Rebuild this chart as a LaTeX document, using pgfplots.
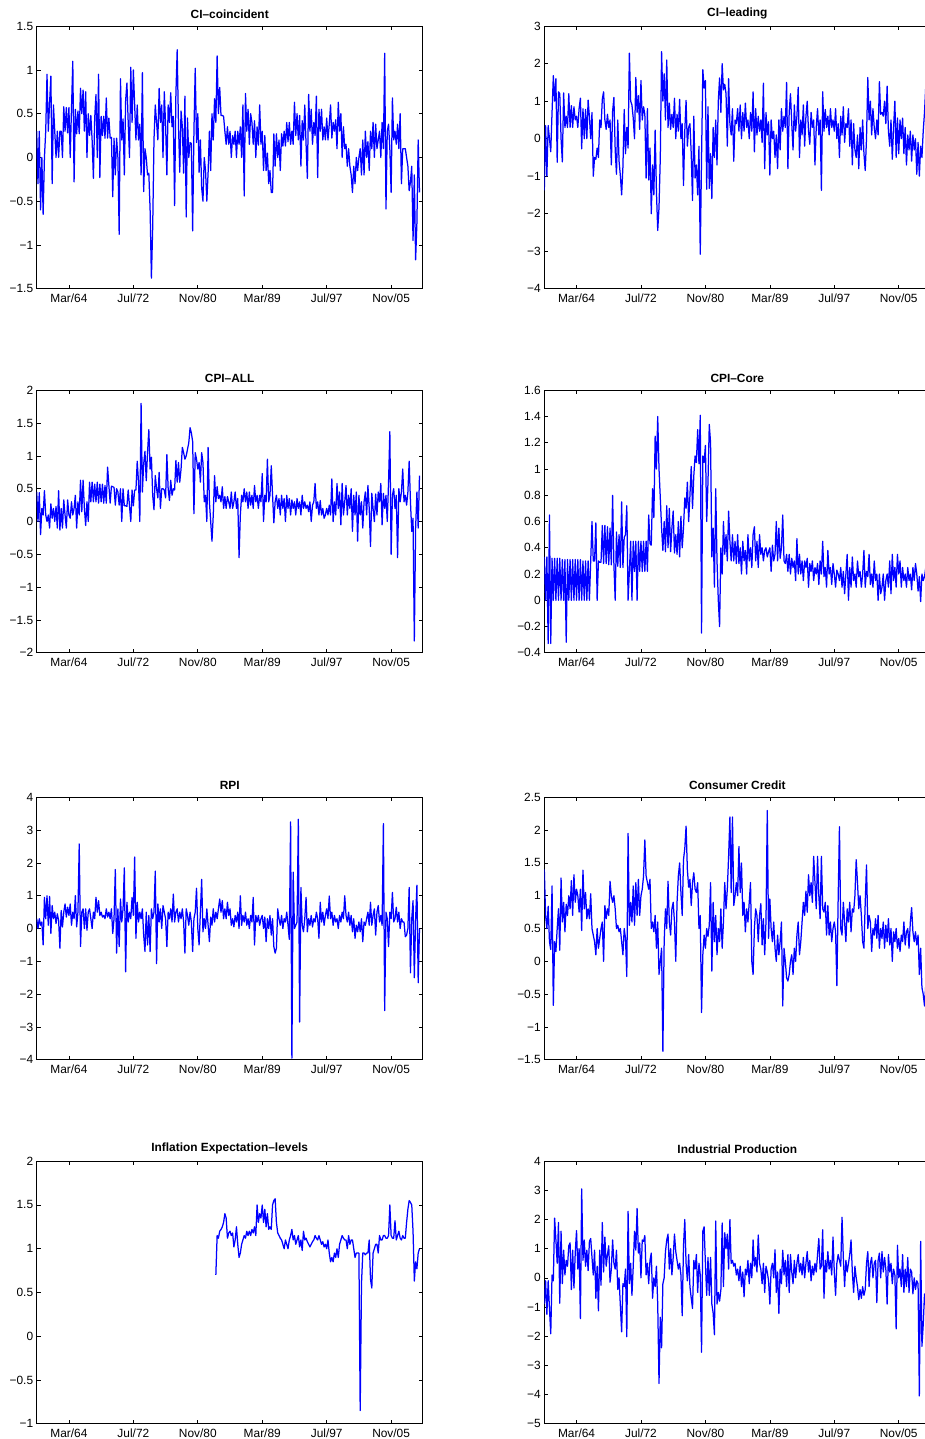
\documentclass[border=0pt]{standalone}
\usepackage{fontspec}
\setmainfont{Liberation Sans}
\usepackage{pgfplots}
\pgfplotsset{compat=1.18}
\pgfplotsset{panel/.style={
 scale only axis, width=386pt, height=262.5pt, anchor=north west,
 xmin=0, xmax=599,
 xtick={50,150,250,350,450,550},
 xticklabels={Mar/64,Jul/72,Nov/80,Mar/89,Jul/97,Nov/05},
 tick align=inside, major tick length=4pt,
 axis line style={line width=0.8pt},
 every tick/.style={black, line width=0.7pt},
 tick label style={font=\fontsize{11.9}{13}\selectfont},
 xticklabel style={yshift=-1.5pt},
 title style={font=\bfseries\fontsize{11.9}{13}\selectfont, yshift=-2pt},
 clip=true},
 ser/.style={color=blue, line width=1.25pt, mark=none, line join=round}}
\begin{document}
\begin{tikzpicture}
\path[use as bounding box] (0pt,0pt) rectangle (925pt,1439pt);
% ---------------- CI-coincident
\begin{axis}[panel, at={(36.7pt,1412.8pt)}, title={CI--coincident},
 ymin=-1.5, ymax=1.5, ytick={-1.5,-1,-0.5,0,0.5,1,1.5}, yticklabels={−1.5,−1,−0.5,0,0.5,1,1.5}]
\addplot[ser] table[row sep=\\, header=false, x expr=2*\coordindex, y index=0] {
0.3\\-0.3\\0.3\\-0.6\\0\\-0.65\\0\\0.3\\0.95\\0.3\\0.62\\0.93\\-0.3\\0.6\\0.3\\0\\0.3\\0\\0.3\\0.3\\0\\0.58\\0.3\\0.57\\0.28\\
0.57\\0\\0.56\\1.1\\-0.28\\0.55\\0.27\\0.53\\0.27\\0.79\\0.5\\0.77\\0.3\\0.75\\0\\0.5\\0.25\\0.48\\0.2\\-0.24\\0.45\\0.72\\0\\0.95\\-0.23\\
0.47\\0.25\\0.47\\0.22\\0.68\\0.22\\0.45\\0.22\\0.23\\-0.45\\0.22\\-0.2\\0.22\\0\\-0.88\\0.9\\0.2\\0.44\\-0.2\\0.65\\0.85\\0.4\\0\\1.03\\0.4\\
1.0\\0.6\\0.2\\0.6\\0.2\\0.38\\-0.2\\0.97\\-0.39\\0.1\\0\\-0.2\\-0.18\\-0.6\\-1.38\\-0.8\\0.2\\0.6\\0.4\\0.2\\0.79\\0.4\\0.6\\0\\0.75\\
0.38\\-0.2\\0.6\\0.4\\0.74\\0.35\\0.47\\-0.55\\0.72\\1.23\\0.38\\-0.17\\0.53\\0.35\\-0.18\\0.7\\-0.68\\0.45\\0\\0.17\\0.16\\-0.84\\0.3\\1.02\\0.17\\
0.5\\-0.17\\0.2\\-0.35\\-0.5\\0\\-0.15\\-0.5\\-0.17\\0.3\\-0.15\\0.5\\0.2\\0.67\\0.4\\1.16\\0.5\\0.8\\0.48\\0.48\\0.47\\0.3\\0.15\\0.35\\0.15\\
0.3\\0\\0.25\\0.15\\0.3\\0\\0.3\\0.15\\0.35\\0\\0.6\\-0.44\\0.73\\0.3\\0.55\\0.15\\0.5\\0.4\\0.15\\0.42\\0\\0.35\\0.14\\0.6\\0.15\\
0.3\\-0.15\\0.25\\-0.15\\0.05\\-0.3\\-0.15\\-0.4\\-0.4\\0.27\\-0.1\\0.27\\0\\0.2\\-0.15\\0.27\\0.13\\0.3\\0.13\\0.4\\0.18\\0.4\\0.15\\0.3\\0.15\\
0.63\\0.25\\0.5\\0.2\\0.48\\-0.1\\0.42\\0.2\\0.6\\0.15\\-0.24\\0.72\\0.3\\0.55\\0.15\\0.4\\0.25\\0.7\\-0.23\\0.55\\0.3\\0.55\\0.2\\0.35\\0.2\\
0.45\\0.2\\0.38\\0.6\\0.22\\0.4\\0.3\\0.43\\0.1\\0.63\\0.3\\0.5\\0\\0.35\\0.1\\0.15\\-0.1\\0.1\\-0.1\\-0.2\\-0.4\\-0.1\\-0.3\\0\\-0.15\\
0\\0.1\\-0.2\\0.2\\-0.2\\0.3\\0\\0.18\\-0.15\\0.3\\0.1\\0.4\\0\\0.38\\0.1\\0.2\\0.3\\0\\0.4\\0.1\\1.19\\-0.59\\0.3\\0.38\\0.1\\
-0.4\\0.68\\0.2\\0.3\\0.15\\0.38\\0.1\\0.5\\-0.3\\0.1\\0.1\\0.1\\0\\-0.1\\-0.38\\-0.28\\-0.1\\-0.95\\-0.2\\-1.17\\-0.75\\0.2\\-0.4\\
};
\end{axis}
% ---------------- CI-leading
\begin{axis}[panel, at={(544.3pt,1412.8pt)}, title={CI--leading},
 ymin=-4, ymax=3, ytick={-4,-3,-2,-1,0,1,2,3}, yticklabels={−4,−3,−2,−1,0,1,2,3}]
\addplot[ser] table[row sep=\\, header=false, x expr=2*\coordindex, y index=0] {
-1.38\\0.35\\-1.0\\0.35\\0\\-0.35\\0.7\\1.68\\1.0\\1.6\\-0.63\\1.25\\1.2\\0\\-0.62\\1.22\\0.3\\0.6\\0.3\\1.2\\0.3\\0.88\\0.3\\0.85\\0.5\\
0.6\\0.3\\0.8\\1.08\\-0.27\\0.8\\0\\0.78\\0\\1.03\\0.58\\0\\0.7\\-1.0\\-0.5\\-0.55\\-0.25\\-0.5\\0.5\\0.3\\1.05\\1.25\\0.5\\0.25\\0.65\\
0.3\\0.5\\-0.7\\0.73\\1.1\\-0.3\\-0.95\\0.5\\-0.6\\-0.98\\-1.5\\-0.75\\0.78\\-0.4\\0.3\\-0.25\\2.28\\1.0\\0.9\\0.55\\0\\1.63\\0.7\\1.15\\0.25\\
1.55\\0.5\\0.85\\0.65\\-1.05\\0.8\\-1.1\\-0.25\\-2.0\\-0.7\\-1.5\\0.23\\-1.4\\-2.45\\-1.83\\-0.5\\2.32\\1.0\\1.73\\0.5\\2.1\\0.3\\0.95\\0.25\\0.65\\
0.3\\1.08\\0\\0.65\\0.2\\1.05\\0\\0.4\\-1.25\\0.2\\1.02\\-0.2\\0.3\\0.4\\-0.4\\-1.65\\0.6\\-1.05\\-0.7\\-1.5\\-0.2\\-3.08\\-0.5\\1.84\\1.35\\
1.55\\-1.35\\0.85\\-1.33\\-0.4\\-1.6\\0.3\\-0.5\\0.5\\-0.7\\1.0\\1.62\\0.7\\2.0\\1.3\\1.45\\1.2\\-0.2\\1.6\\0.4\\0.1\\0.8\\-0.6\\0.5\\0.4\\
0.8\\0.2\\0.9\\0\\0.7\\0.2\\0.95\\0.3\\0.5\\0\\0.7\\0.2\\1.25\\-0.35\\0.8\\0.1\\0.6\\0.2\\0.5\\-0.1\\1.48\\-0.8\\0.7\\0.1\\0.45\\
-0.97\\0.5\\0\\0.2\\-0.5\\0.1\\-0.8\\0.5\\-0.3\\0.8\\0.2\\0.6\\0.3\\1.5\\-0.8\\0.7\\1.2\\0.4\\-0.3\\0.9\\0.2\\0.6\\1.37\\-0.5\\0.5\\
0.1\\0.9\\-0.2\\0.6\\1.0\\0.2\\-0.15\\0.7\\0.3\\0.5\\-0.7\\0.3\\0.8\\0.1\\0.5\\-1.38\\1.25\\0.2\\0.78\\0.3\\0.6\\0.1\\0.8\\0.3\\0.5\\
0.2\\0.8\\0\\0.4\\-0.5\\0.6\\0.1\\0.85\\-0.1\\0.4\\0.3\\0.8\\-0.2\\0.5\\-0.7\\0.4\\-0.3\\-0.5\\0.1\\-0.8\\0.3\\-0.3\\0.5\\-0.4\\-0.85\\
0.0\\1.63\\0.5\\1.0\\0.1\\0.8\\0.3\\0\\0.5\\0.1\\1.52\\0.65\\0.7\\0.6\\1.0\\0.4\\1.4\\0.2\\-0.2\\0.5\\-0.55\\0.3\\1.0\\-0.5\\0.55\\
-0.4\\0.5\\0\\0.55\\-0.4\\0.3\\-0.7\\0.1\\-0.3\\0.2\\-0.6\\0.1\\-0.3\\0\\-0.95\\-0.1\\-1.0\\-0.2\\-0.5\\0.2\\0.7\\1.42\\1.5\\
};
\end{axis}
% ---------------- CPI-ALL
\begin{axis}[panel, at={(36.7pt,1048.7pt)}, title={CPI--ALL},
 ymin=-2, ymax=2, ytick={-2,-1.5,-1,-0.5,0,0.5,1,1.5,2}, yticklabels={−2,−1.5,−1,−0.5,0,0.5,1,1.5,2}]
\addplot[ser] table[row sep=\\, header=false, x expr=2*\coordindex, y index=0] {
0.45\\0\\0.44\\-0.2\\0.2\\0.1\\0.47\\0.1\\0\\0.1\\-0.1\\0.27\\0.05\\0.2\\0\\0.23\\-0.1\\0.47\\-0.13\\0.2\\-0.1\\0.33\\0.1\\-0.1\\0.33\\
0.1\\0.05\\0.3\\0.1\\0.2\\0.4\\-0.1\\0.3\\0.1\\0.63\\0.15\\0.63\\0.2\\-0.06\\0.3\\0.0\\0.6\\0.3\\0.6\\0.3\\0.57\\0.3\\0.6\\0.28\\0.57\\
0.3\\0.57\\0.28\\0.55\\0.28\\0.83\\0.55\\0.28\\0.54\\0.53\\0.52\\0.25\\0.5\\0.45\\0.25\\0.5\\0\\0.5\\0.24\\0.24\\0.23\\0.48\\0.24\\0\\0.48\\
0.24\\0.48\\0.48\\0.92\\0.6\\0\\1.8\\0.45\\0.88\\1.07\\0.62\\1.05\\1.4\\0.8\\0.98\\0.4\\0.18\\0.7\\0.5\\0.36\\0.75\\0.2\\0.5\\0.5\\0.48\\
0.36\\1.02\\0.5\\0.32\\0.63\\0.4\\0.5\\0.48\\0.93\\0.6\\0.9\\0.6\\0.8\\1.13\\1.05\\0.95\\1.0\\1.1\\1.2\\1.43\\1.35\\1.22\\0.12\\1.05\\0.95\\
0.8\\0.9\\0.6\\1.05\\0.9\\0.3\\0.4\\0\\1.13\\0.3\\0\\-0.3\\0.1\\0.7\\0.3\\0.53\\0.35\\0.4\\0.3\\0.53\\0.2\\0.38\\0.2\\0.38\\0.3\\
0.2\\0.45\\0.2\\0.3\\0.45\\0.2\\0.35\\-0.55\\0.1\\0.4\\0.3\\0.5\\0.3\\0.45\\0.2\\0.45\\0.25\\0.4\\0.2\\0.55\\0.3\\0.4\\0.2\\0.4\\0.3\\
0.73\\0\\0.4\\0.3\\0.95\\0.3\\0.4\\0.85\\0.4\\-0.02\\0.3\\0.4\\0.2\\0.35\\0.1\\0.4\\0.2\\0.35\\0\\0.4\\0.2\\0.35\\0.1\\0.33\\0.2\\
0.3\\0.1\\0.35\\0.2\\0.3\\0.1\\0.4\\0.2\\0.3\\0.2\\0.25\\0.15\\0.3\\0.0\\0.25\\0.3\\0.58\\0.2\\0.3\\0.1\\0.32\\0.1\\0.2\\0.05\\0.1\\
0.2\\0.1\\0.25\\0.1\\0.65\\0\\0.3\\0.1\\0.58\\0.2\\0.45\\-0.05\\0.58\\0.1\\0.3\\0.55\\0.1\\0.4\\0.2\\0.5\\-0.15\\0.4\\0.1\\0.45\\-0.3\\
0.4\\0.1\\0.3\\-0.1\\0.3\\0.45\\0.1\\0.55\\0.2\\-0.38\\0.43\\0.2\\0\\0.42\\0.1\\0.45\\0.3\\0.58\\-0.05\\0.43\\0.2\\0.4\\0\\0.6\\1.37\\
-0.5\\0.4\\0.5\\0.2\\0.4\\-0.55\\0.5\\0.3\\0.45\\0.8\\0.3\\0.4\\0.25\\0.45\\0.92\\0.3\\-0.15\\0.05\\-1.82\\-0.1\\0.45\\-0.1\\0.7\\
};
\end{axis}
% ---------------- CPI-Core
\begin{axis}[panel, at={(544.3pt,1048.7pt)}, title={CPI--Core},
 ymin=-0.4, ymax=1.6, ytick={-0.4,-0.2,0,0.2,0.4,0.6,0.8,1,1.2,1.4,1.6}, yticklabels={−0.4,−0.2,0,0.2,0.4,0.6,0.8,1,1.2,1.4,1.6}]
\addplot[ser] table[row sep=\\, header=false, x expr=2*\coordindex, y index=0] {
0.33\\0\\0.33\\-0.33\\0.65\\-0.33\\0.32\\0\\0.32\\0\\0.32\\0\\0.32\\0\\0.31\\0\\0.31\\-0.32\\0.31\\0\\0.31\\0\\0.31\\0\\0.31\\
0\\0.31\\0\\0.31\\0\\0.3\\0\\0.3\\0\\0.3\\0\\0.3\\0.6\\0.3\\0.3\\0.59\\0\\0.3\\0.29\\0.29\\0.57\\0.28\\0.57\\0.28\\0.56\\
0.27\\0.55\\0.27\\0.8\\0.27\\0\\0.52\\0.26\\0.5\\0.25\\0.75\\0.25\\0.48\\0.5\\0.72\\0\\0.22\\0.45\\0\\0.45\\0.22\\0.45\\0\\0.45\\0.22\\
0.45\\0.22\\0.45\\0.22\\0.45\\0.22\\0.65\\0.43\\0.42\\0.85\\0.63\\1.25\\1.0\\1.4\\1.0\\0.78\\0.55\\0.38\\0.6\\0.37\\0.72\\0.4\\0.7\\0.37\\0.55\\
0.68\\0.36\\0.5\\0.35\\0.6\\0.33\\0.64\\0.4\\0.55\\0.78\\0.7\\0.9\\0.6\\0.8\\1.02\\0.7\\0.95\\1.1\\1.05\\1.3\\1.04\\1.41\\-0.25\\1.1\\1.05\\
1.18\\0.6\\0.9\\1.34\\1.2\\0.33\\0.55\\0.1\\0.85\\0.3\\0\\-0.2\\0.4\\0.2\\0.6\\0.35\\0.5\\0.3\\0.68\\0.45\\0.3\\0.5\\0.3\\0.45\\0.28\\
0.5\\0.28\\0.4\\0.2\\0.45\\0.3\\0.38\\0.2\\0.5\\0.3\\0.4\\0.25\\0.5\\0.56\\0.3\\0.45\\0.25\\0.5\\0.35\\0.4\\0.3\\0.38\\0.4\\0.33\\0.37\\
0.4\\0.22\\0.42\\0.3\\0.35\\0.6\\0.3\\0.55\\0.32\\0.4\\0.65\\0.3\\0.28\\0.35\\0.22\\0.35\\0.2\\0.32\\0.25\\0.3\\0.15\\0.47\\0.2\\0.35\\0.2\\
0.3\\0.15\\0.3\\0.25\\0.32\\0.1\\0.28\\0.22\\0.3\\0.15\\0.25\\0.2\\0.28\\0.12\\0.3\\0.2\\0.45\\0.18\\0.25\\0.1\\0.38\\0.2\\0.25\\0.12\\0.28\\
0.2\\0.1\\0.23\\0.2\\0.15\\0.25\\0.1\\0.22\\0.05\\0.2\\0.35\\0\\0.25\\0.1\\0.33\\0.15\\0.2\\0.1\\0.3\\0.18\\0.22\\0.1\\0.2\\0.38\\0.1\\
0.22\\0.18\\0.35\\0.12\\0.2\\0.1\\0.3\\0.15\\0.2\\0\\0.2\\0.05\\0.1\\0.2\\0\\0.15\\0.2\\0.1\\0.3\\0.05\\0.35\\0.15\\0.25\\0.1\\0.35\\
0.2\\0.3\\0.1\\0.25\\0.15\\0.2\\0.1\\0.25\\0.15\\0.2\\0.08\\0.25\\0.15\\0.28\\0.2\\0.07\\0.18\\-0.01\\0.2\\0.15\\0.18\\0.25\\0.15\\
};
\end{axis}
% ---------------- RPI
\begin{axis}[panel, at={(36.7pt,641.7pt)}, title={RPI},
 ymin=-4, ymax=4, ytick={-4,-3,-2,-1,0,1,2,3,4}, yticklabels={−4,−3,−2,−1,0,1,2,3,4}]
\addplot[ser] table[row sep=\\, header=false, x expr=2*\coordindex, y index=0] {
0.3\\0\\0.3\\0.1\\0.2\\-0.5\\0.95\\0.3\\1.0\\0.1\\0.98\\-0.15\\0.7\\0.3\\0.5\\0.15\\0.45\\0.25\\-0.6\\0.55\\0.05\\0.5\\0.75\\0.35\\0.65\\
0.4\\0.75\\0.1\\0.5\\0.3\\1.0\\0.05\\0.5\\2.58\\-0.55\\0.5\\0.6\\0\\0.6\\-0.05\\0.5\\0.6\\0.3\\0\\0.5\\0.3\\0.95\\0.5\\0.85\\0.4\\
0.5\\0.35\\0.4\\0.3\\0.6\\0.35\\0.5\\0.3\\0.6\\-0.15\\0.3\\1.8\\-0.75\\0.6\\-0.55\\0.9\\0.2\\0.6\\1.85\\-1.32\\0.8\\0.2\\0.5\\0.3\\0.95\\
0.4\\2.18\\-0.3\\0.8\\0.2\\0.5\\0.3\\0.6\\-0.2\\-0.7\\0.5\\-0.5\\0.4\\-0.7\\0.6\\0.3\\0.5\\1.75\\-1.07\\0.75\\0.2\\0.6\\0\\0.7\\0.5\\
0.3\\-0.55\\0.5\\0.3\\0.6\\0.2\\1.05\\0.2\\0.5\\0.6\\0.2\\0.5\\0.3\\0.6\\0.2\\-0.75\\0.6\\0.4\\0.1\\0.5\\0.2\\-0.7\\0.3\\0.5\\1.23\\
0\\-0.5\\0.5\\1.5\\-0.1\\0.3\\0\\0.6\\0.1\\-0.4\\0.35\\0.1\\0.6\\0.2\\0.5\\0.3\\0.6\\0.9\\0.5\\0.85\\0.3\\0.6\\0.3\\0.8\\0.4\\
0.6\\0.1\\0.3\\0.05\\0.4\\0.2\\0.5\\0\\1.0\\0.1\\0.4\\0.2\\0.5\\0.1\\0.3\\0\\0.4\\0.2\\0.95\\-0.5\\0.4\\0.2\\0.4\\0.1\\0.3\\
0.4\\0\\0.35\\-0.4\\0.3\\0\\0.4\\-0.2\\0.3\\-0.55\\-0.75\\-0.6\\0.6\\0.3\\0.1\\0.4\\0\\0.3\\0.2\\0.5\\0.1\\-0.33\\3.25\\-3.95\\1.72\\
0\\0.1\\0.2\\3.33\\-2.85\\1.25\\0.1\\-0.1\\0.3\\0.95\\-0.1\\0.3\\0.1\\0.4\\0.05\\0.3\\0.2\\0.5\\0.3\\-0.3\\0.8\\0.2\\0.5\\0.1\\0.4\\
0.6\\0.3\\0.99\\0.3\\0.5\\0.1\\0.4\\0.2\\0.3\\0\\0.4\\0.2\\0.5\\0.3\\1.0\\0.4\\0.2\\0.5\\0.1\\0.4\\-0.1\\0.3\\-0.3\\0.1\\-0.1\\
0.2\\-0.1\\0.3\\-0.4\\0.2\\0.1\\0.3\\0.5\\0.1\\0.8\\0.1\\0.4\\0.6\\-0.2\\0.5\\0.7\\0.2\\0.4\\0.1\\3.2\\-2.5\\0.5\\0.3\\-0.55\\0.5\\
0.3\\1.1\\0.2\\0.3\\0.65\\0.2\\0.5\\0\\0.3\\0.2\\0.2\\-0.25\\-0.2\\0\\1.25\\-1.35\\0.3\\0.85\\-1.5\\0.3\\1.32\\-1.65\\0\\
};
\end{axis}
% ---------------- Consumer Credit
\begin{axis}[panel, at={(544.3pt,641.7pt)}, title={Consumer Credit},
 ymin=-1.5, ymax=2.5, ytick={-1.5,-1,-0.5,0,0.5,1,1.5,2,2.5}, yticklabels={−1.5,−1,−0.5,0,0.5,1,1.5,2,2.5}]
\addplot[ser] table[row sep=\\, header=false, x expr=2*\coordindex, y index=0] {
1.4\\0.7\\0.5\\0.84\\0.3\\0.18\\1.15\\-0.67\\0.3\\0.15\\0.5\\0.8\\0.17\\1.27\\0.6\\0.9\\0.45\\0.87\\0.7\\1.0\\0.8\\1.23\\0.7\\1.32\\0.9\\
1.1\\1.0\\0.75\\1.1\\0.47\\1.39\\0.8\\1.05\\0.65\\0.8\\0.65\\1.03\\0.5\\0.4\\0.3\\0.1\\0.5\\0.2\\0.35\\0.5\\0.6\\0.0\\0.85\\0.65\\0.8\\
0.7\\1.22\\1.0\\0.9\\1.0\\0.8\\0.5\\0.55\\0.45\\0.5\\0.3\\0.1\\0.5\\0.35\\-0.23\\1.95\\0.55\\0.9\\0.6\\1.15\\0.55\\1.2\\0.7\\1.25\\0.7\\
1.0\\1.1\\1.3\\1.85\\1.3\\1.2\\1.1\\1.25\\0.5\\0.6\\0.45\\0.7\\0.2\\0.6\\-0.2\\0\\0.2\\-1.37\\0.3\\0.8\\0.5\\1.22\\0.6\\0.4\\0.8\\
0.9\\0.6\\0\\0.9\\1.3\\1.5\\1.05\\0.7\\1.55\\1.72\\2.06\\1.4\\1.13\\1.25\\0.85\\1.2\\1.35\\1.1\\1.05\\1.2\\0.5\\0.7\\-0.78\\0.1\\0.4\\
0.2\\0.5\\0.38\\0.55\\1.2\\-0.15\\0.9\\0.3\\0.7\\0.1\\0.5\\0.3\\0.8\\0.2\\0.6\\1.2\\0.8\\1.1\\1.6\\2.2\\1.05\\2.2\\0.85\\1.0\\1.2\\
1.0\\1.75\\1.05\\1.5\\0.7\\0.9\\0.45\\0.8\\0.6\\0.9\\1.2\\0\\-0.2\\0.5\\0.8\\0.7\\0.3\\0.7\\0.88\\0.25\\0.65\\0.1\\0.6\\2.3\\0.35\\
0.95\\0.5\\0.3\\0.6\\0.2\\0\\0.4\\0.1\\0.3\\0.6\\-0.68\\0.2\\0\\-0.25\\-0.3\\-0.2\\0\\0.1\\-0.2\\0.2\\0\\0.4\\0.6\\0.1\\0.3\\
0.6\\0.9\\0.7\\1.07\\0.75\\1.32\\1.0\\1.2\\0.9\\1.6\\1.2\\0.8\\1.6\\1.0\\0.65\\1.6\\0.8\\0.75\\0.9\\0.4\\0.85\\0.4\\0.6\\0.3\\0.5\\
0.6\\0.45\\-0.37\\0.95\\2.05\\0.5\\0.4\\0.9\\0.6\\0.3\\0.8\\0.6\\0.9\\0.45\\0.8\\0.75\\1.0\\1.55\\1.2\\0.8\\1.0\\0.7\\0.3\\0.2\\0.9\\
1.47\\0.5\\0.7\\0.6\\0.15\\0.5\\0.4\\0.65\\0.35\\0.7\\0.2\\0.5\\0.35\\0.6\\0.2\\0.55\\0.3\\0.65\\0.25\\0.5\\0.0\\0.45\\0.3\\0.5\\0.2\\
0.35\\0.15\\0.4\\0.3\\0.6\\0.25\\0.45\\0.5\\0.2\\0.6\\0.82\\0.45\\0.3\\0.45\\0.25\\0.4\\-0.2\\0.2\\-0.4\\-0.5\\-0.68\\-0.35\\-0.4\\
};
\end{axis}
% ---------------- Inflation Expectation-levels
\begin{axis}[panel, at={(36.7pt,277.8pt)}, title={Inflation Expectation--levels},
 ymin=-1, ymax=2, ytick={-1,-0.5,0,0.5,1,1.5,2}, yticklabels={−1,−0.5,0,0.5,1,1.5,2}]
\addplot[ser] table[row sep=\\, header=false, x expr=278+2*\coordindex, y index=0] {
0.7\\1.15\\1.12\\1.2\\1.22\\1.25\\1.3\\1.4\\1.35\\1.12\\1.18\\1.2\\1.15\\1.18\\1.02\\1.1\\1.25\\1.05\\0.9\\0.95\\
1.05\\1.1\\1.15\\1.12\\1.2\\1.15\\1.2\\1.15\\1.22\\1.18\\1.25\\1.15\\1.5\\1.3\\1.4\\1.35\\1.5\\1.3\\1.45\\1.25\\
1.4\\1.22\\1.25\\1.22\\1.5\\1.55\\1.57\\1.3\\1.18\\1.15\\1.12\\1.1\\1.05\\1.0\\1.1\\1.05\\1.0\\1.1\\1.15\\1.22\\
1.1\\1.15\\1.05\\1.1\\1.15\\1.02\\1.1\\0.98\\1.2\\1.1\\1.12\\1.08\\1.05\\1.02\\1.05\\1.08\\1.1\\1.15\\1.12\\1.1\\
1.15\\1.1\\1.05\\1.08\\1.02\\1.05\\1.0\\1.1\\0.95\\0.85\\0.9\\0.85\\0.95\\0.9\\1.0\\0.9\\1.05\\1.1\\1.15\\1.12\\
1.1\\1.1\\1.0\\1.15\\1.05\\1.1\\1.1\\1.0\\0.9\\0.95\\0.95\\0.95\\-0.85\\0.6\\0.95\\0.95\\0.93\\0.95\\0.95\\1.1\\
0.65\\0.55\\0.95\\1.0\\1.05\\1.05\\0.95\\1.15\\1.1\\1.1\\1.15\\1.15\\1.12\\1.12\\1.15\\1.5\\1.15\\1.12\\1.12\\1.32\\
1.1\\1.15\\1.2\\1.12\\1.1\\1.15\\1.12\\1.12\\1.3\\1.45\\1.55\\1.53\\1.5\\1.2\\0.63\\0.85\\0.77\\0.95\\1.0\\
};
\end{axis}
% ---------------- Industrial Production
\begin{axis}[panel, at={(544.3pt,277.8pt)}, title={Industrial Production},
 ymin=-5, ymax=4, ytick={-5,-4,-3,-2,-1,0,1,2,3,4}, yticklabels={−5,−4,−3,−2,−1,0,1,2,3,4}]
\addplot[ser] table[row sep=\\, header=false, x expr=2*\coordindex, y index=0] {
-0.9\\-0.1\\-1.25\\-0.1\\-1.05\\-1.92\\0.1\\-0.1\\2.05\\1.3\\0.5\\1.9\\-0.87\\1.6\\-0.2\\0.95\\0.1\\0.6\\0.4\\1.1\\1.2\\-0.4\\0.95\\-0.35\\0.85\\
1.62\\0.3\\1.0\\-1.4\\3.05\\0.6\\1.3\\0.4\\0.95\\0.25\\1.25\\1.35\\0.7\\0.1\\0.95\\-0.7\\0.4\\-1.13\\0.95\\-0.25\\1.9\\0.2\\1.4\\0.4\\0.8\\
1.1\\-0.15\\0.3\\1.3\\0.5\\0.3\\0.95\\-0.4\\0\\-0.95\\-1.85\\-0.2\\-0.3\\0.3\\-2.02\\2.28\\-0.2\\0.5\\-0.6\\0.4\\1.6\\0.95\\2.38\\0.85\\1.2\\
0.0\\1.3\\1.25\\1.45\\0.1\\0.5\\-0.2\\0.6\\0.85\\-0.7\\0.0\\-0.3\\0.4\\-0.9\\-3.62\\-1.35\\-2.4\\-0.2\\0.0\\0.9\\1.3\\1.5\\0.3\\1.0\\0.1\\
0.7\\1.5\\0.9\\0.6\\0.3\\0.5\\0.1\\-1.3\\1.1\\2.0\\0.5\\-0.1\\0.8\\-0.3\\-0.7\\-1.05\\0.6\\0.3\\0.8\\-0.5\\0.5\\0.1\\-2.55\\1.6\\1.75\\
0.5\\-0.6\\0.7\\-0.6\\0.7\\-0.9\\-1.2\\-1.95\\1.95\\-0.9\\-0.5\\-0.8\\-0.4\\1.88\\-0.3\\1.55\\1.0\\1.5\\0.3\\2.0\\0.5\\0.6\\0.4\\0.5\\0.1\\
0.3\\-0.1\\0.4\\-0.3\\0.2\\-0.65\\0.3\\0.1\\0.6\\-0.2\\0.5\\0.0\\1.3\\0.4\\0.7\\0.2\\1.47\\0.5\\0.3\\-0.2\\0.5\\-0.5\\0.4\\0.2\\-0.1\\
-0.9\\0.3\\0.5\\0.0\\0.96\\-0.5\\0.2\\-1.22\\0.3\\-0.2\\0.95\\0.1\\0.6\\-0.3\\0.8\\-0.5\\0.8\\0.2\\-0.2\\0.6\\0.0\\0.5\\0.8\\0.2\\0.5\\
0.1\\0.7\\0.0\\0.5\\0.9\\0.2\\0.6\\-0.1\\0.4\\0.1\\0.5\\0.2\\0.8\\1.35\\0.3\\0.4\\1.65\\-0.7\\0.6\\0.2\\0.9\\0.3\\0.6\\0.1\\1.4\\
0.2\\-0.6\\0.5\\0.8\\0.6\\0.4\\2.08\\0.7\\-0.3\\0.6\\0.2\\0.5\\0.8\\1.3\\0.2\\-0.5\\0.4\\0.0\\-0.3\\-0.75\\-0.4\\-0.7\\-0.3\\-0.6\\-0.4\\
0.5\\0.9\\-0.3\\0.5\\0.7\\0.0\\0.5\\0.6\\-0.85\\0.6\\0.85\\0.0\\0.9\\0.2\\0.7\\0.3\\-0.9\\0.8\\0.2\\0.5\\-0.2\\0.3\\0.1\\-1.75\\1.12\\
0.0\\0.3\\-0.3\\0.8\\-0.5\\0.3\\-0.3\\0.7\\-0.5\\0.3\\0.2\\-0.55\\0.0\\-0.4\\-0.1\\-0.2\\-4.05\\1.25\\-2.35\\-1.6\\-0.55\\-1.0\\-0.6\\
};
\end{axis}
\end{tikzpicture}
\end{document}
